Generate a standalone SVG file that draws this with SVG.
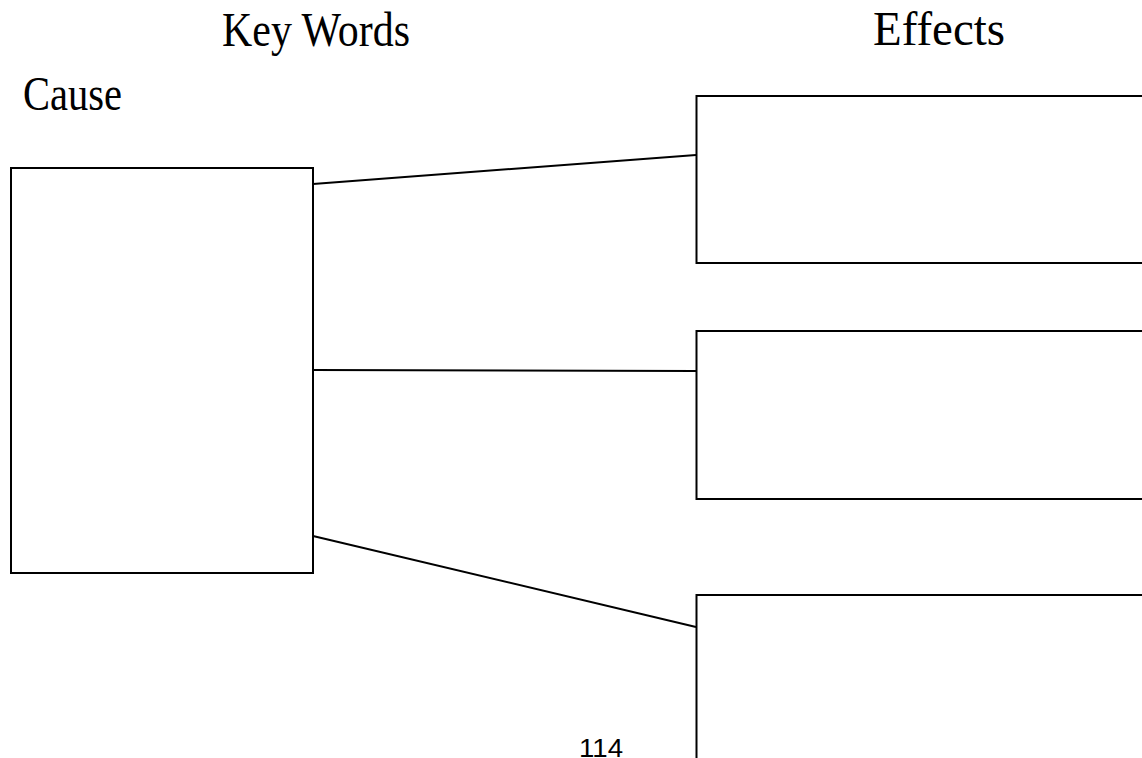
<svg xmlns="http://www.w3.org/2000/svg" width="1142" height="758" viewBox="0 0 1142 758">
<style>
.box{fill:#fff;stroke:#000;stroke-width:2}
.ln{stroke:#000;stroke-width:2;fill:none}
.t{font-family:"Liberation Serif","Times New Roman",serif;font-size:48px;fill:#000}
.pg{font-family:"Liberation Sans",Arial,sans-serif;font-size:26px;fill:#000}
</style>
<rect width="1142" height="758" fill="#fff"/>
<g id="title-keywords"><text class="t" x="222" y="46" textLength="188" lengthAdjust="spacingAndGlyphs">Key Words</text></g>
<g id="title-effects"><text class="t" x="873" y="45" textLength="132" lengthAdjust="spacingAndGlyphs">Effects</text></g>
<g id="title-cause"><text class="t" x="23" y="110" textLength="99" lengthAdjust="spacingAndGlyphs">Cause</text></g>
<g id="connectors">
<line class="ln" x1="313" y1="184" x2="696" y2="155"/>
<line class="ln" x1="313" y1="370" x2="696" y2="371"/>
<line class="ln" x1="313" y1="536" x2="696" y2="627"/>
</g>
<g id="cause-box"><rect class="box" x="11" y="168" width="302" height="405"/></g>
<g id="effect-1"><rect class="box" x="696.5" y="96" width="460" height="167"/></g>
<g id="effect-2"><rect class="box" x="696.5" y="331" width="460" height="168"/></g>
<g id="effect-3"><rect class="box" x="696.5" y="595" width="460" height="200"/></g>
<g id="page-number"><text class="pg" x="579" y="757" textLength="44" lengthAdjust="spacingAndGlyphs">114</text></g>
</svg>
